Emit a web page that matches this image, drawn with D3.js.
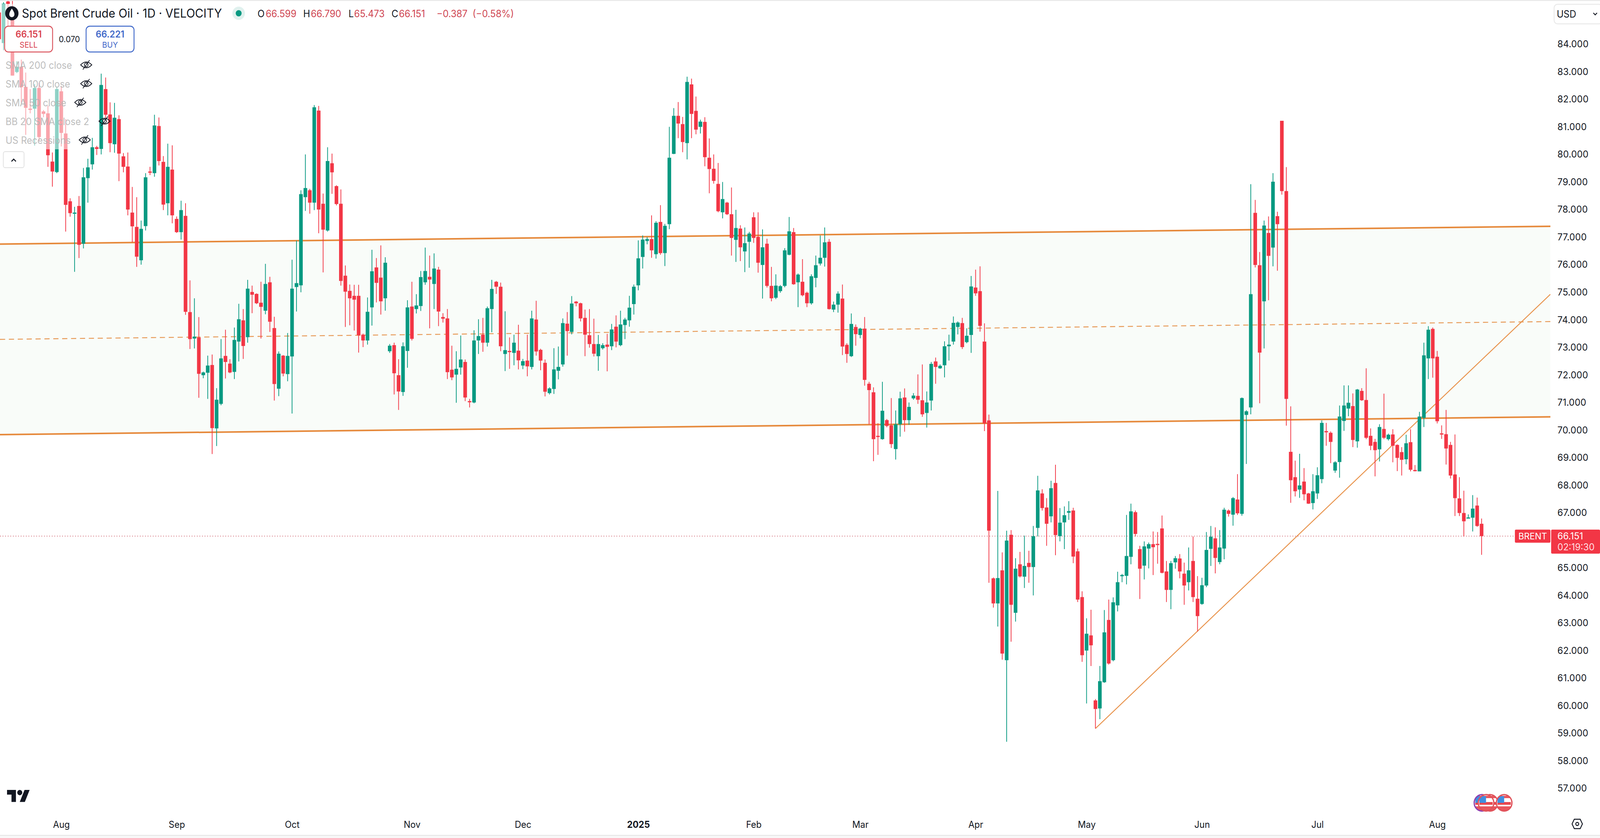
<!DOCTYPE html>
<html><head><meta charset="utf-8">
<script src="https://cdn.jsdelivr.net/npm/d3@7/dist/d3.min.js"></script>
<style>html,body{margin:0;padding:0;background:#fff;overflow:hidden;width:100%;height:100%}svg{display:block;width:100vw;height:100vh}text{font-family:Inter,"Noto Sans",sans-serif}</style>
</head><body><svg id="c" viewBox="0 0 4324 2144" preserveAspectRatio="none"></svg>
<script>
const opens=[85.15,84.04,85.55,85.0,82.99,83.18,82.45,81.66,81.66,82.41,
81.56,81.49,79.74,79.36,82.29,80.76,78.3,77.88,78.13,76.76,
79.14,79.64,80.26,80.2,82.37,81.45,80.37,81.28,79.93,79.56,
77.89,77.37,76.16,77.4,79.38,79.32,81.03,79.73,78.23,79.45,
77.66,77.18,77.77,74.28,73.32,73.36,71.99,72.08,72.36,70.06,
70.95,72.69,72.41,72.11,73.21,73.98,73.37,75.01,74.94,74.62,
74.33,75.36,73.7,71.5,72.7,72.03,72.67,75.19,75.25,78.45,
78.7,78.25,81.59,78.21,77.24,79.68,78.85,78.21,75.6,75.05,
74.87,74.87,73.46,73.25,74.45,75.9,75.53,74.78,72.86,73.08,
71.99,71.38,72.87,74.48,74.39,74.5,75.36,75.56,75.3,75.82,
74.1,74.05,72.19,72.01,72.27,72.47,71.05,71.0,73.25,73.46,
73.17,74.39,75.38,75.2,72.76,72.87,72.8,72.88,72.34,72.52,
72.29,74.01,72.91,72.44,71.34,71.49,72.15,72.38,73.86,73.56,
74.66,74.6,74.07,73.44,73.12,72.68,72.97,73.1,73.04,73.75,
73.08,73.81,73.98,74.57,75.25,76.28,76.86,76.93,76.38,77.55,
76.42,77.47,80.02,81.4,81.1,80.41,82.54,81.58,81.0,81.18,
79.88,79.48,78.93,77.9,78.25,77.83,76.9,77.31,76.48,76.83,
77.72,77.01,75.99,76.76,75.23,74.8,75.04,75.23,76.36,77.18,
75.36,75.38,74.98,74.6,75.52,76.04,76.25,76.83,74.37,74.55,
74.77,73.09,72.68,73.74,73.45,73.68,71.68,71.37,69.79,69.67,
70.36,70.17,69.31,70.21,71.18,70.36,71.15,71.24,71.08,70.62,
71.07,72.49,72.24,72.35,73.04,73.21,73.74,73.88,73.19,73.45,
75.17,75.04,73.21,70.35,64.62,63.71,64.91,61.65,66.2,63.37,
65.13,64.68,65.18,65.03,66.45,67.7,67.19,66.87,68.08,66.15,
66.65,67.0,67.08,65.6,63.94,62.0,62.55,60.19,59.9,60.85,
63.11,61.65,63.64,64.72,64.71,65.4,67.02,65.68,65.08,65.7,
65.86,65.87,66.43,64.87,64.2,65.2,65.34,64.79,64.48,65.25,
63.88,63.69,64.36,65.69,66.07,65.21,65.7,67.08,66.93,67.48,
66.96,70.55,70.82,77.88,75.98,74.67,77.15,76.62,77.76,81.22,
78.67,69.21,68.29,67.84,68.13,67.7,67.35,67.7,68.22,69.96,
69.9,68.53,68.84,70.33,70.78,70.87,69.59,71.42,71.09,69.79,
69.57,69.3,70.04,69.67,69.84,69.46,69.2,68.94,69.56,68.55,
68.5,70.44,72.6,73.67,72.66,69.88,69.85,69.46,68.39,67.52,
66.99,66.82,66.82,67.26,66.599];
const closes=[84.18,85.47,85.46,82.86,83.18,82.44,81.69,81.65,82.41,80.63,
81.47,79.97,79.38,82.37,80.78,78.17,77.87,77.89,76.72,79.17,
79.53,80.26,80.2,82.52,81.44,80.41,81.33,80.03,79.55,78.0,
77.39,76.29,77.3,79.17,79.35,81.05,79.76,78.18,79.55,77.79,
77.18,77.98,74.29,73.3,73.39,72.04,72.09,72.34,70.07,71.1,
72.6,72.47,72.09,73.27,74.02,73.05,75.13,74.91,74.6,74.47,
75.3,73.93,71.67,72.77,72.05,72.69,75.13,75.33,78.56,78.78,
78.25,81.71,78.0,77.27,79.76,79.35,78.2,75.41,75.02,74.78,
74.73,73.44,73.25,74.29,75.76,75.34,74.67,76.07,73.06,72.06,
71.4,73.04,74.45,73.31,74.52,75.55,75.77,75.46,75.86,74.3,
74.04,72.1,71.91,72.22,72.56,71.18,71.03,73.25,73.41,73.17,
74.42,75.12,75.2,73.04,72.9,72.85,73.17,72.53,72.5,72.31,
74.05,72.85,72.52,71.39,71.51,72.2,72.29,73.88,73.59,74.59,
74.6,74.05,73.46,73.12,72.77,73.12,73.08,73.02,73.65,73.21,
73.83,74.01,74.44,75.2,76.23,76.91,76.93,76.52,77.52,76.42,
77.41,79.88,81.4,81.12,80.45,82.63,81.47,80.9,81.19,79.9,
79.47,79.04,77.94,78.38,77.83,76.97,77.33,76.63,76.78,77.13,
76.97,76.07,76.63,75.23,74.78,75.24,75.22,76.52,77.21,75.29,
75.64,74.89,74.6,75.58,75.98,76.25,76.81,74.39,74.55,74.95,
73.03,72.76,73.85,73.48,73.68,71.82,71.45,69.67,69.77,70.7,
70.15,69.49,70.21,71.15,70.36,70.84,71.25,71.1,70.57,71.0,
72.4,72.29,72.33,73.04,73.1,73.89,73.9,73.01,73.42,75.21,
74.96,73.78,70.24,66.35,63.71,64.63,61.89,65.99,63.66,64.97,
64.69,65.07,65.03,66.15,67.81,67.17,66.6,67.89,66.19,66.64,
66.91,67.06,65.41,63.85,61.83,62.61,62.19,59.88,60.89,62.66,
61.53,63.75,64.48,64.74,65.43,67.05,66.23,64.97,65.78,65.86,
65.75,65.85,64.82,64.2,65.17,65.35,64.87,64.36,64.91,63.94,
63.25,64.37,65.65,66.13,65.36,65.74,67.11,66.96,67.53,66.98,
71.16,70.68,74.93,75.99,72.81,77.42,76.32,79.01,77.47,78.67,
71.13,68.18,67.78,67.99,67.67,67.33,67.78,68.36,70.26,69.93,
69.57,68.83,70.49,70.89,70.99,69.64,71.47,71.08,69.72,69.43,
69.27,70.11,69.72,69.83,69.43,68.99,68.92,69.52,68.56,68.51,
70.49,72.71,73.64,72.6,70.32,69.86,69.33,68.35,67.53,66.99,
66.69,66.83,67.15,66.52,66.151];
const highs=[85.2,85.52,85.6,85.58,83.38,83.44,82.97,82.37,82.55,82.6,
81.61,81.77,80.07,82.46,82.48,81.28,78.41,78.1,78.49,79.51,
79.84,80.6,80.31,82.93,82.79,81.89,81.87,81.42,80.05,80.07,
78.82,78.45,77.6,79.32,79.55,81.44,81.34,79.94,80.39,80.33,
77.75,78.32,78.23,75.43,74.78,74.1,72.12,72.7,72.74,71.52,
73.3,73.64,72.57,73.72,74.58,74.39,75.45,75.24,74.96,75.38,
76.03,75.56,74.11,72.85,72.72,73.52,76.18,76.87,78.7,80.0,
78.75,81.79,81.76,78.58,80.26,80.03,78.88,78.73,75.97,75.28,
75.27,75.27,73.5,74.81,76.54,76.24,76.7,76.27,73.12,73.17,
72.57,73.18,74.71,75.38,74.93,75.77,76.62,76.33,76.41,75.92,
74.24,74.39,73.06,72.86,73.43,72.56,71.13,73.62,74.02,74.07,
74.48,75.45,75.41,75.35,74.31,73.36,73.46,73.82,72.58,73.46,
74.33,74.69,72.95,72.56,71.55,72.97,73.03,74.05,74.28,74.86,
74.68,74.62,74.37,74.39,74.04,73.45,73.15,73.49,73.85,74.16,
74.33,74.07,74.87,75.28,76.88,77.06,77.0,77.79,77.58,78.16,
77.48,81.0,81.68,81.9,81.36,82.82,82.75,82.1,81.26,81.35,
80.58,80.0,79.69,79.0,78.28,78.8,77.99,77.43,77.35,77.19,
77.9,77.9,77.28,76.94,75.92,75.65,75.26,76.6,77.73,77.33,
75.68,76.2,75.02,75.65,76.33,77.06,77.35,76.93,74.66,75.03,
75.28,73.15,74.23,73.83,73.71,74.1,71.75,71.55,70.25,71.75,
70.4,71.16,70.71,71.39,71.51,71.0,71.34,72.02,72.38,71.4,
72.47,72.63,72.38,73.22,73.46,74.12,73.94,74.07,73.69,75.59,
75.82,75.94,73.87,70.56,64.65,67.79,65.56,66.35,66.37,65.35,
65.58,66.17,65.62,66.52,68.34,67.85,67.53,68.16,68.74,67.17,
67.23,67.42,67.18,65.7,64.15,63.17,63.48,60.24,61.44,63.47,
63.85,63.93,64.86,64.78,66.92,67.33,67.08,65.8,65.96,65.92,
66.32,66.3,66.9,65.25,65.25,65.43,65.5,65.19,65.74,66.14,
64.7,64.64,66.3,66.52,66.47,66.37,67.18,67.12,67.57,68.4,
71.18,70.72,78.92,78.35,76.46,77.6,77.75,79.32,77.92,81.22,
79.54,70.86,68.89,69.14,68.62,67.72,68.4,68.65,70.35,70.26,
69.95,68.87,70.89,71.62,71.62,71.33,71.49,71.52,72.24,70.06,
69.68,70.21,71.32,69.87,70.03,69.48,69.38,69.83,70.03,68.73,
70.66,73.17,73.77,73.72,72.87,70.17,70.73,69.57,69.84,68.29,
67.8,66.94,67.64,67.55,66.79];
const lows=[84.1,83.78,84.66,82.86,82.95,81.87,80.71,81.49,80.32,80.5,
81.35,79.55,78.83,79.32,80.29,77.2,77.74,75.74,76.24,76.59,
78.25,79.45,79.98,80.0,81.3,80.08,80.06,79.03,79.35,77.79,
76.81,75.92,76.0,77.24,79.25,79.19,79.6,77.98,77.79,77.5,
77.15,76.91,74.18,72.94,72.96,71.17,71.88,71.13,69.13,69.42,
70.9,71.87,72.06,71.85,72.49,72.58,73.17,74.24,74.57,73.32,
74.2,73.56,71.07,71.23,71.95,71.77,70.6,74.3,75.0,77.95,
77.85,77.98,77.14,75.72,77.2,78.57,78.15,75.24,73.74,73.8,
73.61,72.81,73.01,73.1,73.79,74.63,74.19,74.33,72.8,71.29,
70.73,71.24,72.26,73.25,74.23,74.32,75.27,73.69,74.39,73.77,
73.9,71.85,71.81,70.99,72.01,71.05,70.82,70.97,72.76,72.84,
73.03,73.55,74.94,72.86,72.14,72.22,72.35,72.2,72.21,71.95,
72.2,72.7,72.17,71.22,71.29,71.31,71.84,72.3,72.7,73.47,
74.49,73.94,72.68,72.99,72.67,72.15,72.92,72.13,72.9,73.0,
73.04,73.3,73.75,74.19,75.07,75.86,76.74,76.25,76.22,76.36,
75.95,77.29,80.01,80.59,80.08,79.82,80.59,80.73,80.76,79.57,
78.59,78.94,77.9,77.68,77.8,76.33,76.1,76.13,75.73,75.89,
76.79,75.71,74.77,75.17,74.67,74.75,74.98,75.18,76.34,75.27,
74.46,74.85,74.46,74.55,75.18,75.97,75.93,74.37,74.28,74.26,
72.72,72.44,72.65,73.06,73.33,71.61,70.21,68.87,69.1,69.65,
70.1,69.35,68.93,69.76,69.94,70.19,71.1,70.95,70.48,70.09,
70.71,71.68,72.22,71.91,72.52,73.1,73.47,72.94,73.15,72.8,
74.87,73.57,69.96,64.46,63.56,62.87,61.67,58.69,62.32,63.05,
64.65,64.27,64.46,64.0,66.14,67.08,65.8,66.65,65.46,65.96,
65.68,66.74,65.17,63.76,61.59,60.08,61.44,59.17,59.51,60.83,
61.49,61.61,63.42,64.48,64.4,65.13,66.14,63.87,64.58,64.98,
64.74,65.15,64.8,63.76,63.5,64.97,64.62,63.66,64.18,63.76,
62.69,63.66,64.3,65.07,64.8,65.13,65.31,66.86,66.53,66.92,
66.89,68.77,70.57,75.9,70.97,72.96,74.71,75.94,75.78,78.54,
70.16,67.36,67.59,67.54,67.45,67.32,67.12,67.5,68.07,69.43,
68.8,68.45,68.27,69.97,70.5,69.38,69.36,71.06,69.67,69.27,
68.32,68.86,69.67,69.62,68.83,68.51,68.35,68.76,68.5,68.5,
68.5,70.11,71.85,71.9,70.24,69.68,68.75,68.24,66.88,66.88,
66.14,66.81,66.32,66.49,65.473];
const priceTicks=[84,83,82,81,80,79,78,77,76,75,74,73,72,71,70,69,68,67,65,64,63,62,61,60,59,58,57];
const timeTickIndex=[14,40,66,93,118,144,170,194,220,245,271,297,324];
const timeTickLabels=["Aug","Sep","Oct","Nov","Dec","2025","Feb","Mar","Apr","May","Jun","Jul","Aug"];
const channelEnds=[0.2,349.5];
const channelUpper=[76.748,77.392];
const channelMiddle=[73.29,73.935];
const channelLower=[69.834,70.479];
const trendIndex=[247,349.5];
const trendPrice=[59.17,74.925];
const lastPrice=66.151;
const legendNames=["SMA 200 close","SMA 100 close","SMA 50 close","BB 20 SMA close 2","US Recessions"];
const legendEyeX=[233,233,217,282.5,229];
const flagCentres=[[4005,"#8e3fb0"],[4027,"#e0525a"],[4016,"#e0525a"],[4065,"#e0525a"]];

const UP="#089981",DOWN="#f23645",INK="#131722",ORANGE="#e6893b";
const svg=d3.select("#c");
const x=d3.scaleLinear().domain([0,334]).range([-2.4,4004]);
const y=d3.scaleLinear().domain([84,57]).range([113,2017]);
const defs=svg.append("defs");
defs.append("clipPath").attr("id","plot").append("rect").attr("x",0).attr("y",2).attr("width",4190).attr("height",2134);
const plot=svg.append("g").attr("clip-path","url(#plot)");

// channel
const cx=channelEnds.map(x);
plot.append("path").attr("fill","#f9fcf9")
 .attr("d",d3.line()([[cx[0],y(channelUpper[0])],[cx[1],y(channelUpper[1])],[cx[1],y(channelLower[1])],[cx[0],y(channelLower[0])]])+"Z");
[channelUpper,channelLower].forEach(p=>plot.append("line").attr("x1",cx[0]).attr("x2",cx[1]).attr("y1",y(p[0])).attr("y2",y(p[1])).attr("stroke",ORANGE).attr("stroke-width",4));
plot.append("line").attr("x1",cx[0]).attr("x2",cx[1]).attr("y1",y(channelMiddle[0])).attr("y2",y(channelMiddle[1])).attr("stroke","#e79a58").attr("stroke-width",2.4).attr("stroke-dasharray","14 10");
plot.append("line").attr("x1",x(trendIndex[0])).attr("x2",x(trendIndex[1])).attr("y1",y(trendPrice[0])).attr("y2",y(trendPrice[1])).attr("stroke","#e8924a").attr("stroke-width",2.4);
plot.append("line").attr("x1",0).attr("x2",4190).attr("y1",y(lastPrice)).attr("y2",y(lastPrice)).attr("stroke","#c9525f").attr("stroke-width",1.8).attr("stroke-dasharray","2 5");

// candles
const idx=d3.range(opens.length);
const col=i=>closes[i]>=opens[i]?UP:DOWN;
plot.append("g").selectAll("line").data(idx).join("line")
 .attr("x1",x).attr("x2",x).attr("y1",i=>y(highs[i])).attr("y2",i=>y(lows[i])).attr("stroke",col).attr("stroke-width",2);
plot.append("g").selectAll("rect").data(idx).join("rect")
 .attr("x",i=>x(i)-4.9).attr("width",9.8)
 .attr("y",i=>y(Math.max(opens[i],closes[i])))
 .attr("height",i=>Math.max(3,Math.abs(y(opens[i])-y(closes[i]))))
 .attr("fill",col);

// fade overlays and chrome
svg.append("rect").attr("x",3).attr("y",10).attr("width",50).attr("height",123).attr("fill","#fff").attr("opacity",.55);
svg.append("rect").attr("x",0).attr("y",133).attr("width",186).attr("height",249).attr("fill","#fff").attr("opacity",.55);
svg.append("rect").attr("x",0).attr("y",0).attr("width",4324).attr("height",2.4).attr("fill","#e8e8e8");
svg.append("rect").attr("x",0).attr("y",2136).attr("width",4324).attr("height",8).attr("fill","#f8f8f8");
svg.append("rect").attr("x",0).attr("y",2136).attr("width",4324).attr("height",2.6).attr("fill","#e8e8e8");

// axes
const yAxis=svg.append("g").attr("transform","translate(4209,0)").call(d3.axisRight(y).tickValues(priceTicks).tickSize(0).tickPadding(0).tickFormat(d3.format(".3f")));
yAxis.select(".domain").remove();
yAxis.selectAll("text").attr("font-family","Inter").attr("font-size",24.5).attr("fill",INK).attr("letter-spacing",".2");
const xAxis=svg.append("g").attr("transform","translate(0,2100.5)").call(d3.axisBottom(x).tickValues(timeTickIndex).tickSize(0).tickPadding(0).tickFormat((d,i)=>timeTickLabels[i]));
xAxis.select(".domain").remove();
xAxis.selectAll("text").attr("font-family","Inter").attr("font-size",24).attr("fill",INK).attr("font-weight",(d,i)=>timeTickLabels[i]==="2025"?700:400);

// price labels
svg.append("rect").attr("x",4094).attr("y",1355).attr("width",96).attr("height",33.5).attr("rx",3).attr("fill",DOWN);
svg.append("text").attr("x",4142).attr("y",1380).attr("text-anchor","middle").attr("font-size",23.5).attr("fill","#fff").text("BRENT");
svg.append("rect").attr("x",4192).attr("y",1355).attr("width",132).attr("height",61.5).attr("rx",3).attr("fill",DOWN);
svg.append("text").attr("x",4209).attr("y",1380).attr("font-size",24.5).attr("fill","#fff").text("66.151");
svg.append("text").attr("x",4209).attr("y",1408).attr("font-size",24.5).attr("fill","#ffdfe2").text("02:19:30");

// USD box
svg.append("rect").attr("x",4200).attr("y",11).attr("width",130).attr("height",50).attr("rx",9).attr("fill","#fff").attr("stroke","#e9e9e9").attr("stroke-width",2.4);
svg.append("text").attr("x",4207).attr("y",45).attr("font-size",25).attr("fill",INK).text("USD");
svg.append("path").attr("d","M4306 33l5 5 5-5").attr("fill","none").attr("stroke",INK).attr("stroke-width",2.4);

// header
const logo=svg.append("g").attr("transform","translate(32,34)");
logo.append("circle").attr("r",18).attr("fill","#131722");
logo.append("path").attr("d","M0 -12C5 -5 7 -1 7 3A7 7 0 0 1 -7 3C-7 -1 -5 -5 0 -12Z").attr("fill","#fff");
svg.append("text").attr("x",59).attr("y",45).attr("font-size",31).attr("fill",INK).text("Spot Brent Crude Oil · 1D · VELOCITY");
svg.append("circle").attr("cx",645).attr("cy",34).attr("r",17).attr("fill","#e0f1ee");
svg.append("circle").attr("cx",645).attr("cy",34).attr("r",8).attr("fill",UP);
const HDR=[["O",696,INK],["66.599",718,"#cf4652"],["H",819.5,INK],["66.790",840,"#cf4652"],["L",942,INK],["65.473",957,"#cf4652"],["C",1058,INK],["66.151",1078,"#cf4652"],["−0.387",1180,"#cf4652"],["(−0.58%)",1277,"#cf4652"]];
svg.append("g").selectAll("text").data(HDR).join("text").attr("x",d=>d[1]).attr("y",44).attr("font-size",25).attr("fill",d=>d[2]).text(d=>d[0]);

// sell / buy
[[12.6,"#d9535c","#d9434f","66.151","SELL"],[232.7,"#3f68c9","#3f68c9","66.221","BUY"]].forEach(b=>{
 svg.append("rect").attr("x",b[0]).attr("y",67).attr("width",129.5).attr("height",66).attr("rx",10).attr("fill","#fff").attr("stroke",b[1]).attr("stroke-width",2.4);
 svg.append("text").attr("x",b[0]+64.7).attr("y",96).attr("text-anchor","middle").attr("font-size",24).attr("font-weight",600).attr("fill",b[2]).text(b[3]);
 svg.append("text").attr("x",b[0]+64.7).attr("y",122).attr("text-anchor","middle").attr("font-size",20.5).attr("fill",b[2]).text(b[4]);
});
svg.append("text").attr("x",187.5).attr("y",108).attr("text-anchor","middle").attr("font-size",21.5).attr("fill",INK).text("0.070");

// legend
legendNames.forEach((n,i)=>{
 const cy=167+48*i;
 svg.append("text").attr("x",15).attr("y",cy+9).attr("font-size",25).attr("fill","#b4b4b4").attr("fill-opacity",.9).text(n);
 const e=svg.append("g").attr("transform",`translate(${legendEyeX[i]},${cy-1})`).attr("fill","none").attr("stroke",INK).attr("stroke-width",2);
 e.append("path").attr("d","M-15 0Q0 -15 15 0Q0 15 -15 0Z");
 e.append("circle").attr("r",5);
 e.append("line").attr("x1",-9).attr("y1",12).attr("x2",9).attr("y2",-12);
});
svg.append("rect").attr("x",9).attr("y",388).attr("width",56).attr("height",41).attr("rx",5).attr("fill","#fff").attr("stroke","#e0e0e0").attr("stroke-width",2);
svg.append("path").attr("d","M31 413l6-6 6 6").attr("fill","none").attr("stroke",INK).attr("stroke-width",2.6);

// TradingView mark
const tv=svg.append("g").attr("transform","translate(19,2014) scale(1.72)").attr("fill","#131722");
tv.append("path").attr("d","M14 22H7V11H0V4h14v18zM28 22h-8l7.5-18h8L28 22z");
tv.append("circle").attr("cx",20).attr("cy",8).attr("r",4);

// flags
flagCentres.forEach((f,i)=>{
 const id="fl"+i, cxx=f[0], cyy=2054;
 defs.append("clipPath").attr("id",id).append("circle").attr("cx",cxx).attr("cy",cyy).attr("r",21);
 const g=svg.append("g");
 g.append("circle").attr("cx",cxx).attr("cy",cyy).attr("r",21).attr("fill","#fff");
 const h=g.append("g").attr("clip-path",`url(#${id})`);
 h.append("rect").attr("x",cxx-18).attr("y",cyy-2).attr("width",36).attr("height",7).attr("fill","#e8474f");
 h.append("rect").attr("x",cxx-18).attr("y",cyy+9).attr("width",36).attr("height",12).attr("fill","#e8575e");
 h.append("rect").attr("x",cxx-18).attr("y",cyy-18).attr("width",36).attr("height",6).attr("fill","#e8575e");
 h.append("rect").attr("x",cxx-18).attr("y",cyy-17).attr("width",18).attr("height",17).attr("fill","#3f8fe0");
 g.append("circle").attr("cx",cxx).attr("cy",cyy).attr("r",21).attr("fill","none").attr("stroke",f[1]).attr("stroke-width",3.4);
});

// settings icon
const gear=svg.append("g").attr("transform","translate(4262.5,2108)").attr("fill","none").attr("stroke",INK).attr("stroke-width",2.4);
gear.append("path").attr("d","M-14 0L-8 -12H8L14 0L8 12H-8Z");
gear.append("circle").attr("r",4);
</script></body></html>
